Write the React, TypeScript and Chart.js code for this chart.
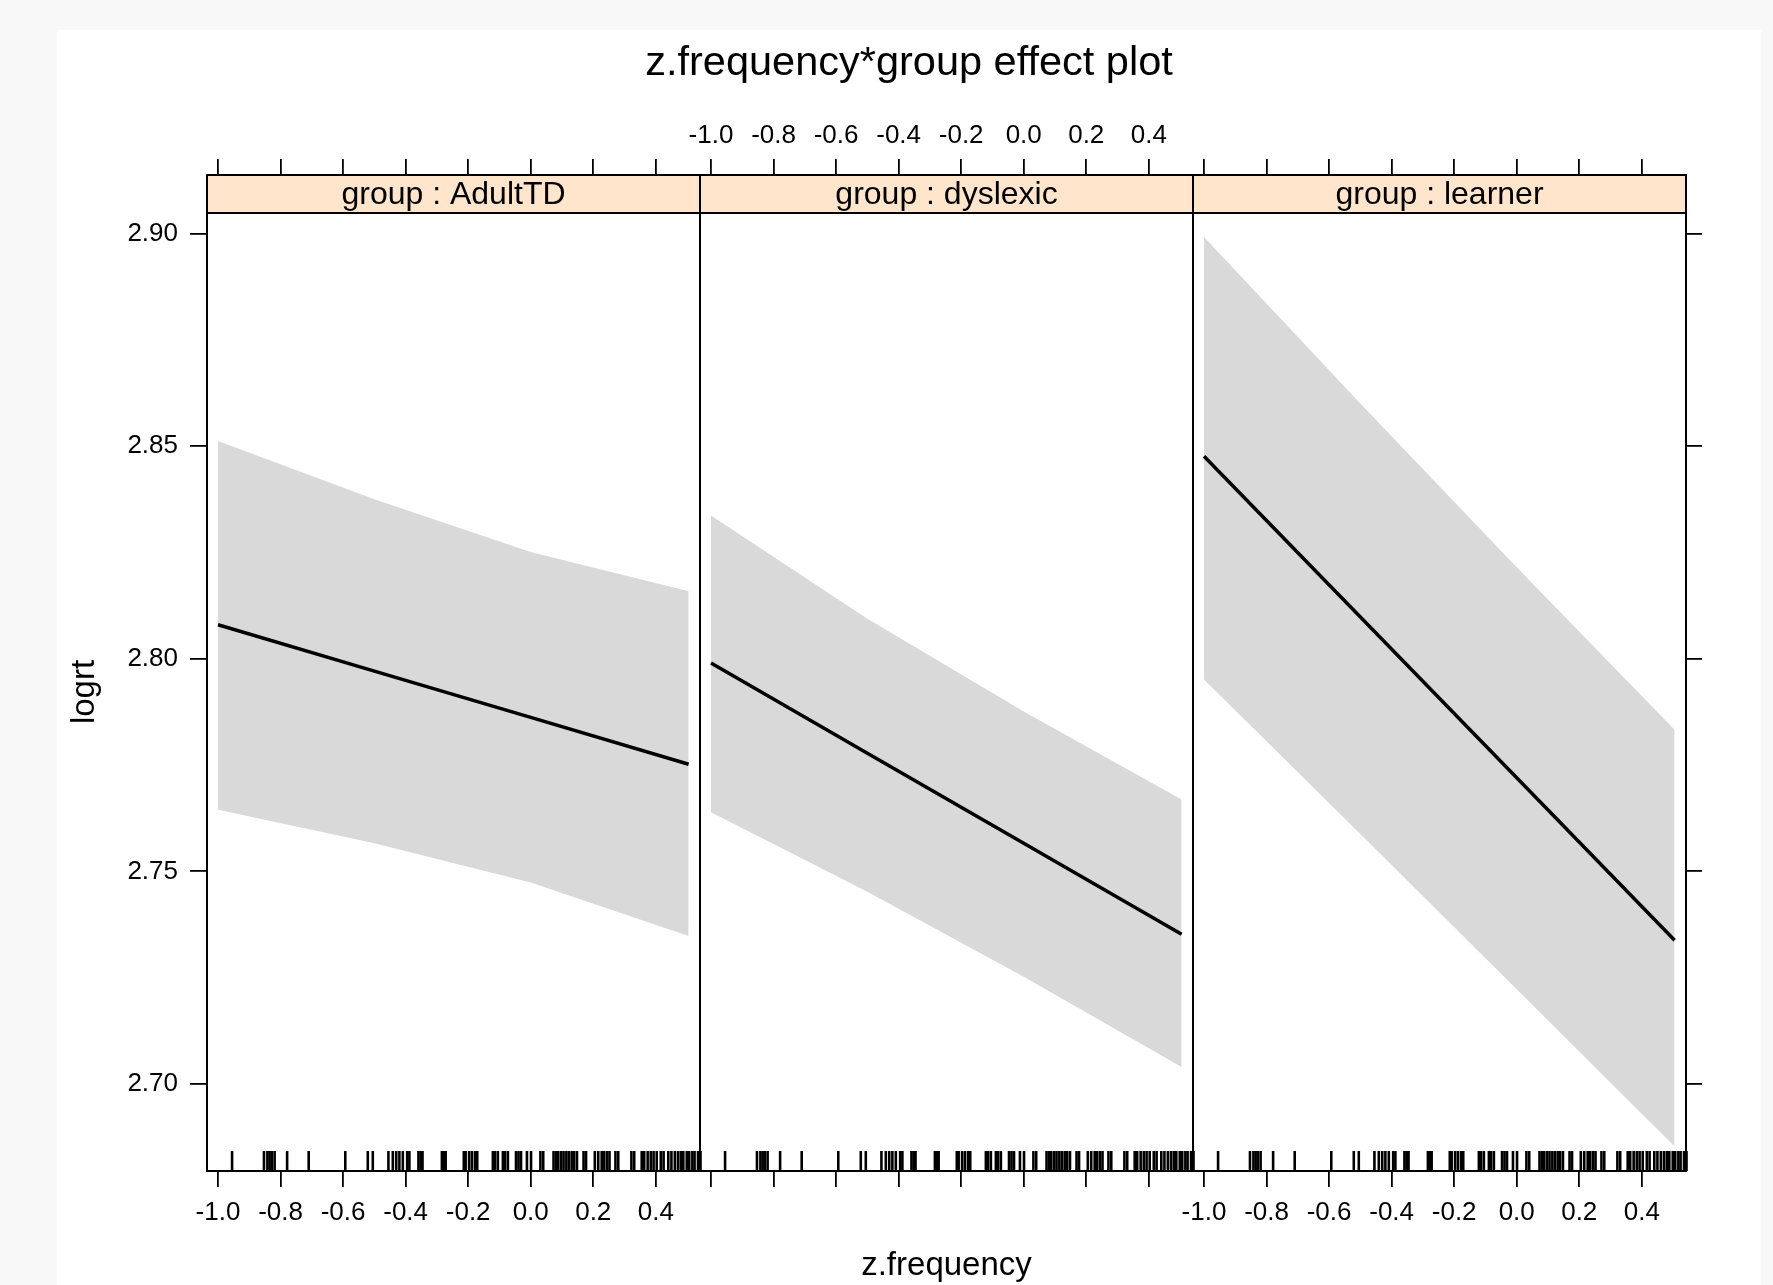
import React, { useEffect, useRef } from 'react';
import { Chart, registerables } from 'chart.js';

Chart.register(...registerables);

const FONT = '"Liberation Sans", Arial, Helvetica, sans-serif';
const TITLE = 'z.frequency*group effect plot';
const X_LABEL = 'z.frequency';
const Y_LABEL = 'logrt';
const groups = ['AdultTD', 'dyslexic', 'learner'];

// effect values (z.frequency levels)
const xLevels = [-1.0, -0.5, 0.0, 0.505];

const fitAdultTD = [2.808, 2.7971, 2.7862, 2.7752];
const upperAdultTD = [2.8512, 2.8375, 2.8251, 2.8159];
const lowerAdultTD = [2.7645, 2.7566, 2.7474, 2.7348];

const fitDyslexic = [2.799, 2.7778, 2.7566, 2.7352];
const upperDyslexic = [2.8337, 2.8094, 2.7876, 2.7669];
const lowerDyslexic = [2.7639, 2.7452, 2.7252, 2.704];

const fitLearner = [2.8476, 2.8098, 2.772, 2.7338];
const upperLearner = [2.8992, 2.86, 2.8215, 2.7833];
const lowerLearner = [2.7951, 2.7588, 2.7223, 2.6853];

// rug of observed z.frequency values
const rugFrequency = [
  -0.955, -0.853, -0.842, -0.835, -0.828, -0.819, -0.779, -0.71, -0.593, -0.521, -0.505,
  -0.455, -0.441, -0.43, -0.42, -0.409, -0.395, -0.388, -0.359, -0.352, -0.346, -0.284,
  -0.278, -0.272, -0.214, -0.208, -0.197, -0.188, -0.178, -0.171, -0.121, -0.114, -0.105,
  -0.089, -0.082, -0.073, -0.047, -0.039, -0.031, -0.012, 0.001, 0.031, 0.04, 0.073, 0.081,
  0.088, 0.097, 0.105, 0.114, 0.122, 0.131, 0.139, 0.148, 0.169, 0.177, 0.205, 0.216, 0.227,
  0.235, 0.244, 0.252, 0.271, 0.28, 0.322, 0.331, 0.355, 0.363, 0.374, 0.384, 0.393, 0.403,
  0.416, 0.425, 0.44, 0.45, 0.461, 0.471, 0.48, 0.488, 0.499, 0.507, 0.517, 0.524, 0.535, 0.543,
];

const xTickValues = [-1.0, -0.8, -0.6, -0.4, -0.2, 0.0, 0.2, 0.4];
const yTickValues = [2.7, 2.75, 2.8, 2.85, 2.9];

const X_MIN = -1.0352;
const X_MAX = 0.5414;
const Y_MIN = 2.67954;
const Y_MAX = 2.91376;
const STRIP_PX = 38;

const W = 1704;
const H = 1255;

const panels = [
  { axis: 'x1', fit: fitAdultTD, upper: upperAdultTD, lower: lowerAdultTD },
  { axis: 'x2', fit: fitDyslexic, upper: upperDyslexic, lower: lowerDyslexic },
  { axis: 'x3', fit: fitLearner, upper: upperLearner, lower: lowerLearner },
];

const pts = (ys: number[]) => xLevels.map((x, i) => ({ x, y: ys[i] }));

function xAxis(position: string, stack: string, showLabels: boolean) {
  return {
    type: 'linear',
    position,
    stack,
    stackWeight: 1,
    min: X_MIN,
    max: X_MAX,
    afterBuildTicks: (s: any) => {
      s.ticks = xTickValues.map((v) => ({ value: v }));
    },
    afterFit: (s: any) => {
      s.height = position === 'top' ? 75 : 70;
    },
    grid: {
      drawOnChartArea: false,
      drawTicks: true,
      tickLength: 16,
      color: '#000',
      lineWidth: 1.8,
    },
    border: { display: true, color: '#000', width: 2 },
    ticks: {
      display: showLabels,
      padding: position === 'top' ? 8 : 10.5,
      color: '#000',
      font: { family: FONT, size: 26 },
      autoSkip: false,
      maxRotation: 0,
      minRotation: 0,
      callback: (v: any) => Number(v).toFixed(1),
    },
  };
}

const latticePlugin = {
  id: 'latticeDecor',
  afterDraw(chart: any) {
    const ctx = chart.ctx;
    const area = chart.chartArea;
    const xs = ['x1', 'x2', 'x3'].map((id) => chart.scales[id]);
    ctx.save();
    // strips
    ctx.fillStyle = '#ffe5cc';
    xs.forEach((s: any) => ctx.fillRect(s.left, area.top, s.right - s.left, STRIP_PX));
    ctx.strokeStyle = '#000';
    ctx.lineWidth = 2;
    ctx.beginPath();
    ctx.moveTo(area.left, area.top + STRIP_PX);
    ctx.lineTo(area.right, area.top + STRIP_PX);
    xs.slice(0, 2).forEach((s: any) => {
      ctx.moveTo(s.right, area.top);
      ctx.lineTo(s.right, area.bottom);
    });
    ctx.stroke();
    ctx.strokeRect(area.left, area.top, area.right - area.left, area.bottom - area.top);
    // strip labels
    ctx.fillStyle = '#000';
    ctx.font = `32px ${FONT}`;
    ctx.textAlign = 'center';
    ctx.textBaseline = 'alphabetic';
    xs.forEach((s: any, i: number) => {
      ctx.fillText(`group : ${groups[i]}`, (s.left + s.right) / 2, area.top + STRIP_PX - 9);
    });
    // title
    ctx.font = `41.5px ${FONT}`;
    ctx.fillText(TITLE, chart.width / 2, 45);
    // x label
    ctx.font = `33px ${FONT}`;
    ctx.textBaseline = 'middle';
    ctx.fillText(X_LABEL, (area.left + area.right) / 2, 1236);
    // y label
    ctx.translate(28, (area.top + STRIP_PX + area.bottom) / 2);
    ctx.rotate(-Math.PI / 2);
    ctx.fillText(Y_LABEL, 0, 0);
    ctx.restore();
  },
};

export default function App() {
  const ref = useRef<HTMLCanvasElement>(null);

  useEffect(() => {
    const datasets: any[] = [];
    panels.forEach((p) => {
      datasets.push({
        data: pts(p.lower),
        xAxisID: p.axis,
        yAxisID: 'y',
        borderWidth: 0,
        borderColor: 'rgba(0,0,0,0)',
        pointRadius: 0,
        fill: false,
        order: 2,
      });
      datasets.push({
        data: pts(p.upper),
        xAxisID: p.axis,
        yAxisID: 'y',
        borderWidth: 0,
        borderColor: 'rgba(0,0,0,0)',
        backgroundColor: '#d9d9d9',
        pointRadius: 0,
        fill: '-1',
        order: 2,
      });
      datasets.push({
        data: pts(p.fit),
        xAxisID: p.axis,
        yAxisID: 'y',
        borderWidth: 3.5,
        borderColor: '#000',
        pointRadius: 0,
        fill: false,
        order: 1,
      });
      datasets.push({
        data: rugFrequency.map((x) => ({ x, y: Y_MIN })),
        xAxisID: p.axis,
        yAxisID: 'y',
        showLine: false,
        pointStyle: 'line',
        pointRotation: 90,
        pointRadius: 20,
        pointBorderWidth: 2.6,
        pointBorderColor: '#000',
        pointBackgroundColor: '#000',
        fill: false,
        order: 0,
        clip: { left: 3, right: 3, top: 0, bottom: 0 },
      });
    });

    const chart = new Chart(ref.current as HTMLCanvasElement, {
      type: 'line',
      data: { datasets },
      options: {
        animation: false,
        responsive: false,
        maintainAspectRatio: false,
        devicePixelRatio: 1,
        events: [],
        layout: { padding: { top: 70, bottom: 44, left: 0, right: 0 } },
        plugins: {
          legend: { display: false },
          tooltip: { enabled: false },
          title: { display: false },
        },
        scales: {
          x1: xAxis('bottom', 'bottom', true),
          x2: xAxis('bottom', 'bottom', false),
          x3: xAxis('bottom', 'bottom', true),
          t1: xAxis('top', 'top', false),
          t2: xAxis('top', 'top', true),
          t3: xAxis('top', 'top', false),
          y: {
            type: 'linear',
            position: 'left',
            min: Y_MIN,
            max: Y_MAX,
            afterBuildTicks: (s: any) => {
              s.ticks = yTickValues.map((v) => ({ value: v }));
            },
            afterFit: (s: any) => {
              s.width = 150;
            },
            grid: { drawOnChartArea: false, drawTicks: true, tickLength: 17, color: '#000', lineWidth: 1.8 },
            border: { display: true, color: '#000', width: 2 },
            ticks: {
              padding: 12,
              color: '#000',
              font: { family: FONT, size: 26 },
              callback: (v: any) => Number(v).toFixed(2),
            },
          },
          yr: {
            type: 'linear',
            position: 'right',
            min: Y_MIN,
            max: Y_MAX,
            afterBuildTicks: (s: any) => {
              s.ticks = yTickValues.map((v) => ({ value: v }));
            },
            afterFit: (s: any) => {
              s.width = 75;
            },
            grid: { drawOnChartArea: false, drawTicks: true, tickLength: 16, color: '#000', lineWidth: 1.8 },
            border: { display: true, color: '#000', width: 2 },
            ticks: { display: false },
          },
        },
      } as any,
      plugins: [latticePlugin],
    });
    return () => chart.destroy();
  }, []);

  return (
    <div style={{ position: 'absolute', left: 0, top: 0, width: 1773, height: 1285, background: '#f8f8f8', overflow: 'hidden' }}>
      <div style={{ position: 'absolute', left: 57, top: 30, width: W, height: H, background: '#ffffff' }}>
        <canvas ref={ref} width={W} height={H} style={{ display: 'block', width: W, height: H }} />
      </div>
    </div>
  );
}
